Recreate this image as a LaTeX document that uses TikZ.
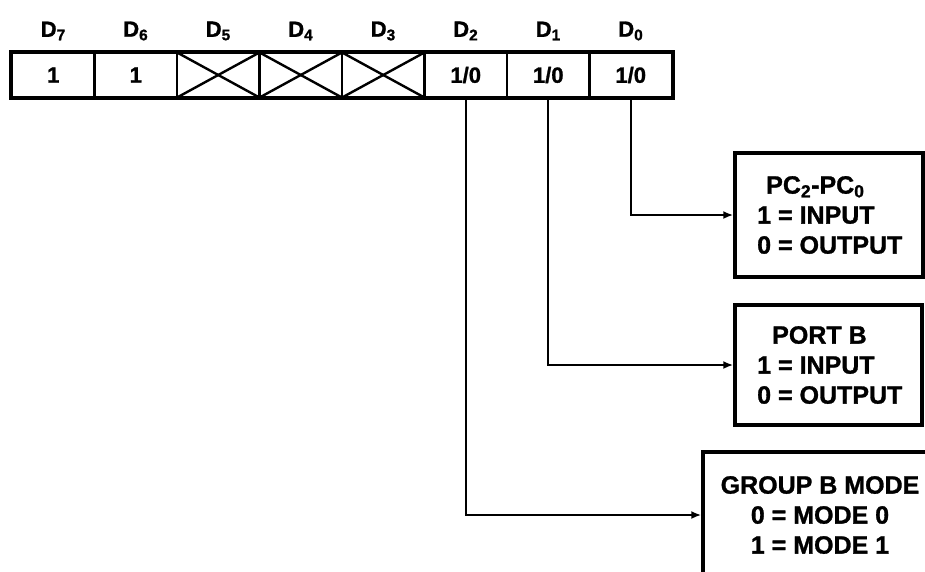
\documentclass[tikz,border=0pt]{standalone}
\usepackage{fontspec}
\setmainfont[FakeBold=1.2]{Liberation Sans}
\usetikzlibrary{arrows.meta}
\begin{document}
\begin{tikzpicture}[x=1pt,y=-1pt,
  cell/.style={draw,line width=2.4pt,minimum width=82.5pt,minimum height=44pt,inner sep=0pt,font=\fontsize{22}{26}\selectfont\bfseries},
  bitlabel/.style={font=\fontsize{22}{26}\selectfont\bfseries,inner sep=0pt},
  infobox/.style={draw,line width=3.4pt,inner sep=0pt},
  boxtext/.style={font=\fontsize{25}{30}\selectfont\bfseries,inner sep=0pt},
  conn/.style={line width=2.4pt,-{Latex[length=10pt,width=8pt]}}]
\useasboundingbox (0,0) rectangle (925,571);
\clip (0,0) rectangle (925,571);
\fill[white] (0,0) rectangle (925,571);
% register cells
\foreach \i/\n/\t in {0/7/1,1/6/1,2/5/{},3/4/{},4/3/{},5/2/{1/0},6/1/{1/0},7/0/{1/0}}{
  \node[cell] (d\n) at ({12+82.5*(\i+0.5)},75) {\t};
  \node[bitlabel] (l\n) at ({12+82.5*(\i+0.5)},31) {D\textsubscript{\n}};
}
\draw[line width=3.6pt] (d7.north west) rectangle (d0.south east);
\foreach \n in {5,4,3}{
  \draw[line width=2.4pt] (d\n.north west) -- (d\n.south east);
  \draw[line width=2.4pt] (d\n.south west) -- (d\n.north east);
}
% info boxes
\node[infobox,minimum width=188pt,minimum height=124pt] (b1) at (829,215) {};
\node[infobox,minimum width=187pt,minimum height=120pt] (b2) at (828.5,365) {};
\node[infobox,minimum width=237pt,minimum height=126pt] (b3) at (821.5,515) {};
\node[boxtext,anchor=west,align=left] (t1) at (757,215) {\hspace*{9pt}PC\textsubscript{2}-PC\textsubscript{0}\\1 = INPUT\\0 = OUTPUT};
\node[boxtext,anchor=west,align=left] (t2) at (757,365) {\hspace*{15pt}PORT B\\1 = INPUT\\0 = OUTPUT};
\node[boxtext,align=center] (t3) at (820,515) {GROUP B MODE\\0 = MODE 0\\1 = MODE 1};
% connectors
\draw[conn] (d0.south) |- (b1.west);
\draw[conn] (d1.south) |- (b2.west);
\draw[conn] (d2.south) |- (b3.west);
\end{tikzpicture}
\end{document}
